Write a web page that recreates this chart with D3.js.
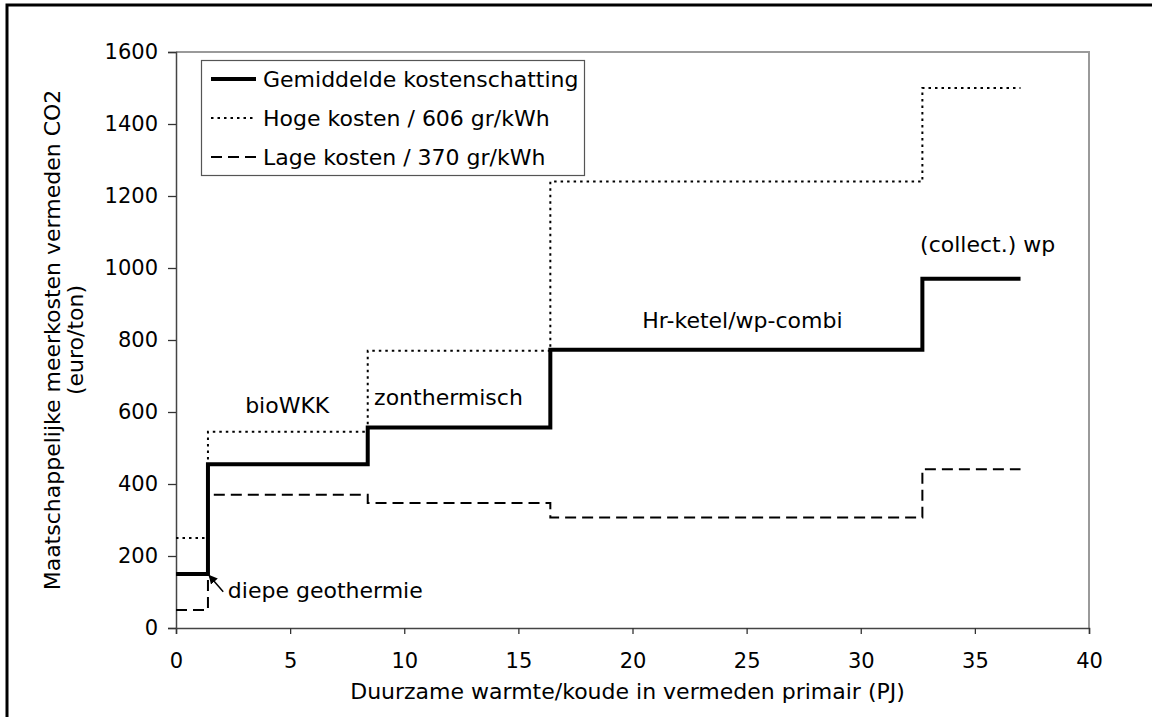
<!DOCTYPE html>
<html><head><meta charset="utf-8">
<script src="https://cdn.jsdelivr.net/npm/d3@7"></script>
<style>body{margin:0;background:#fff}text{font-family:"DejaVu Sans",Verdana,sans-serif;fill:#000}</style>
</head><body><svg id="c" width="1152" height="717"></svg>
<script>
const xBreaks = [0, 1.4, 8.4, 16.4, 32.7, 37];
const avgCost = [150, 455, 557, 773, 970];
const highCost = [250, 545, 770, 1240, 1500];
const lowCost = [50, 370, 347, 307, 441];
const seriesNames = ["Gemiddelde kostenschatting", "Hoge kosten / 606 gr/kWh", "Lage kosten / 370 gr/kWh"];
const xTicks = [0, 5, 10, 15, 20, 25, 30, 35, 40];
const yTicks = [0, 200, 400, 600, 800, 1000, 1200, 1400, 1600];
const labels = [
  {t: "bioWKK", x: 3.03, y: 597},
  {t: "zonthermisch", x: 8.68, y: 619},
  {t: "Hr-ketel/wp-combi", x: 20.43, y: 833},
  {t: "(collect.) wp", x: 32.6, y: 1045},
  {t: "diepe geothermie", x: 2.27, y: 84}
];
const arrow = {x1: 2.07, y1: 101, x2: 1.45, y2: 146};

const svg = d3.select("#c");
const L = 176, R = 1089, T = 52, B = 628;
const x = d3.scaleLinear().domain([0, 40]).range([L, R]);
const y = d3.scaleLinear().domain([0, 1600]).range([B, T]);
const FS = 22, TFS = 21;

// outer frame
svg.append("rect").attr("x", 7).attr("y", 5).attr("width", 1170).attr("height", 740)
  .attr("fill", "none").attr("stroke", "#000").attr("stroke-width", 3);

// plot border top/right
svg.append("path").attr("d", `M${L},${T}H${R}V${B}`).attr("fill", "none")
  .attr("stroke", "#9a9a9a").attr("stroke-width", 2);

// axes
const xAxis = d3.axisBottom(x).tickValues(xTicks).tickSize(6).tickPadding(19).tickFormat(d3.format("d"));
const gx = svg.append("g").attr("transform", `translate(0,${B})`).call(xAxis);
const yAxis = d3.axisLeft(y).tickValues(yTicks).tickSize(8).tickPadding(10).tickFormat(d3.format("d"));
const gy = svg.append("g").attr("transform", `translate(${L},0)`).call(yAxis);
[gx, gy].forEach(g => {
  g.select(".domain").attr("stroke", "#444").attr("stroke-width", 1.5);
  g.selectAll(".tick line").attr("stroke", "#333").attr("stroke-width", 1.3);
  g.selectAll(".tick text").style("font-family", '"DejaVu Sans",sans-serif').style("font-size", TFS + "px").attr("fill", "#000");
});
gx.selectAll(".tick text").attr("dy", "0.71em");

// axis titles
svg.append("text").attr("x", (L + R) / 2 - 5).attr("y", 699).attr("text-anchor", "middle")
  .style("font-size", FS + "px").text("Duurzame warmte/koude in vermeden primair (PJ)");
const yt = svg.append("text").attr("transform", `translate(52,${(T + B) / 2}) rotate(-90)`)
  .attr("text-anchor", "middle").style("font-size", FS + "px");
yt.append("tspan").attr("x", 0).attr("dy", "0.35em").text("Maatschappelijke meerkosten vermeden CO2");
yt.append("tspan").attr("x", 0).attr("dy", "1.05em").text("(euro/ton)");

// step lines
const line = d3.line().x(d => x(d[0])).y(d => y(d[1])).curve(d3.curveStepAfter);
function pts(vals) {
  const p = vals.map((v, i) => [xBreaks[i], v]);
  p.push([xBreaks[xBreaks.length - 1], vals[vals.length - 1]]);
  return p;
}
const styles = [
  {w: 4, dash: null},
  {w: 2, dash: "2.5,4"},
  {w: 2, dash: "11,6"}
];
[lowCost, highCost, avgCost].forEach((vals, k) => {
  const s = styles[2 - k];
  svg.append("path").attr("d", line(pts(vals))).attr("fill", "none").attr("stroke", "#000")
    .attr("stroke-width", s.w).attr("stroke-dasharray", s.dash).attr("stroke-linejoin", "miter");
});

// legend
const lg = svg.append("g");
lg.append("rect").attr("x", 201.5).attr("y", 60.5).attr("width", 383).attr("height", 115)
  .attr("fill", "#fff").attr("stroke", "#555").attr("stroke-width", 1.2);
seriesNames.forEach((n, i) => {
  const yy = 79 + i * 39;
  lg.append("line").attr("x1", 211).attr("x2", 256).attr("y1", yy).attr("y2", yy)
    .attr("stroke", "#000").attr("stroke-width", styles[i].w).attr("stroke-dasharray", styles[i].dash);
  lg.append("text").attr("x", 263).attr("y", yy).attr("dy", "0.35em").style("font-size", FS + "px").text(n);
});

// annotations
labels.forEach(l => {
  svg.append("text").attr("x", x(l.x)).attr("y", y(l.y)).style("font-size", FS + "px").text(l.t);
});
svg.append("defs").append("marker").attr("id", "ah").attr("viewBox", "0 0 10 10").attr("refX", 9).attr("refY", 5)
  .attr("markerWidth", 9).attr("markerHeight", 9).attr("markerUnits", "userSpaceOnUse").attr("orient", "auto")
  .append("path").attr("d", "M0,0L10,5L0,10z").attr("fill", "#000");
svg.append("line").attr("x1", x(arrow.x1)).attr("y1", y(arrow.y1)).attr("x2", x(arrow.x2)).attr("y2", y(arrow.y2))
  .attr("stroke", "#000").attr("stroke-width", 1.5).attr("marker-end", "url(#ah)");
</script></body></html>
